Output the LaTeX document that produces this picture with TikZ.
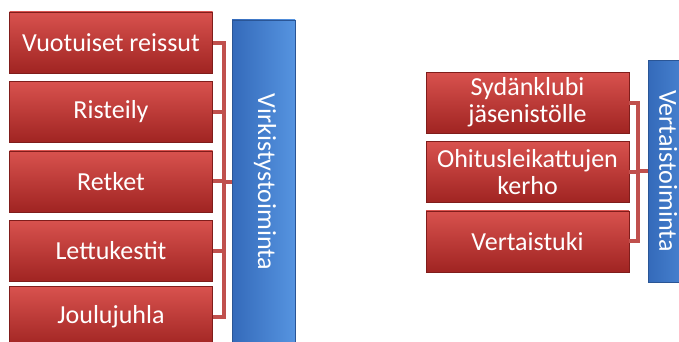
\documentclass[tikz,border=0pt]{standalone}
\usepackage{fontspec}
\setmainfont{Carlito}
\usepackage{tikz}
\usetikzlibrary{positioning,calc}
\definecolor{redtop}{RGB}{216,82,78}
\definecolor{redmid}{RGB}{198,58,55}
\definecolor{redbot}{RGB}{160,36,34}
\definecolor{redline}{RGB}{192,80,77}
\definecolor{blueleft}{RGB}{52,106,186}
\definecolor{bluemid}{RGB}{64,128,208}
\definecolor{blueright}{RGB}{86,148,224}
\tikzset{
    conn/.style     = {line width=4pt, draw=redline},
    itembox/.style  = {draw=redbot!80!black, thin, top color=redtop, middle color=redmid,
            bottom color=redbot, minimum width=203pt, minimum height=61pt,
            inner sep=0pt, align=center, text=white,
            font=\fontsize{26}{27}\selectfont},
    groupbox/.style = {draw=blueleft!80!black, thin, left color=blueleft, middle color=bluemid,
            right color=blueright, minimum width=63pt, inner sep=0pt},
    grouplabel/.style = {rotate=-90, text=white, font=\fontsize{26}{27}\selectfont},
}

\begin{document}
\begin{tikzpicture}[x=1pt,y=1pt,node distance=8pt]
    \clip (0,0) rectangle (679,341);
    \begin{scope}
        % Nodes
        \node[itembox] (vuot) at (111,298.5) {Vuotuiset reissut};
        \node[itembox, below=of vuot] (rist) {Risteily};
        \node[itembox, below=of rist] (retk) {Retket};
        \node[itembox, below=of retk] (lett) {Lettukestit};
        \node[itembox, below=5pt of lett] (joul) {Joulujuhla};
        \node[groupbox, minimum height=324pt] (virk) at (263.5,159) {};
        \node[grouplabel] (virklab) at ($(virk.center)+(1.5,0)$) {Virkistystoiminta};
        \coordinate (busL) at (224,0);
        % Arrows
        \foreach \n in {vuot,rist,retk,lett,joul}
            \draw[conn] (\n.east) -- (\n.east -| busL) |- (virk.west);
    \end{scope}
    \begin{scope}
        % Nodes
        \node[itembox] (sydan) at (527.5,238.5) {Sydänklubi\\jäsenistölle};
        \node[itembox, below=of sydan] (ohit) {Ohitusleikattujen\\kerho};
        \node[itembox, below=of ohit] (vert) {Vertaistuki};
        \node[groupbox, minimum height=222pt] (vtoim) at (679.5,170) {};
        \node[grouplabel] (vtoimlab) at ($(vtoim.west)+(20.5,0)$) {Vertaistoiminta};
        \coordinate (busR) at (638,0);
        % Arrows
        \foreach \n in {sydan,ohit,vert}
            \draw[conn] (\n.east) -- (\n.east -| busR) |- (vtoim.west);
    \end{scope}
\end{tikzpicture}
\end{document}
